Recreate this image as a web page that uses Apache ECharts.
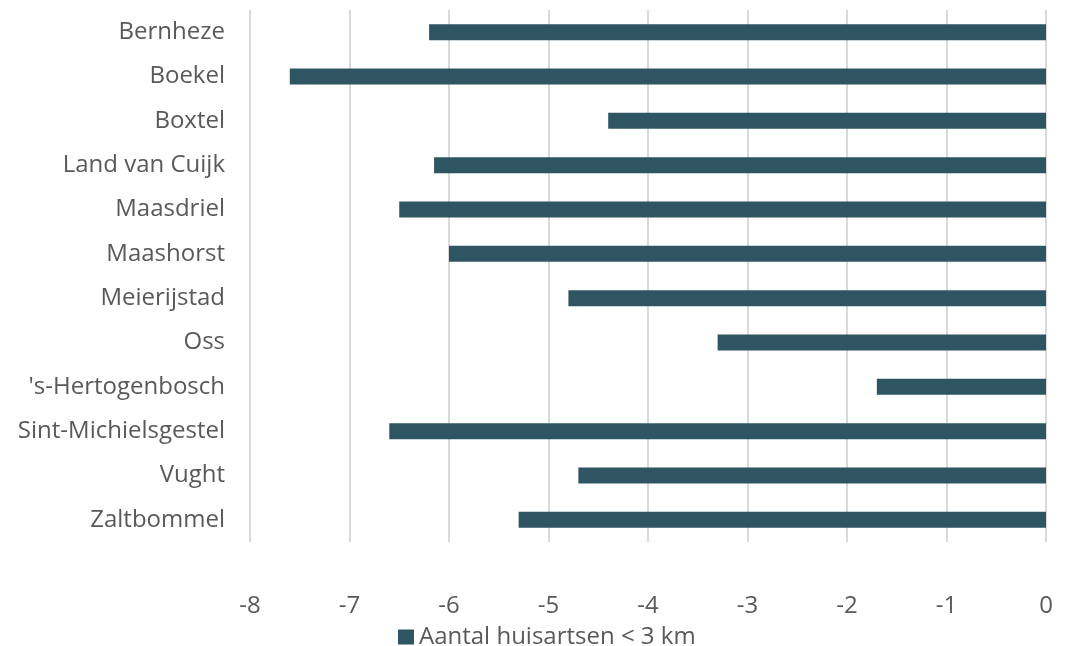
<!DOCTYPE html>
<html><head><meta charset="utf-8">
<script src="https://cdn.jsdelivr.net/npm/echarts@6/dist/echarts.min.js"></script>
<style>html,body{margin:0;padding:0;background:#fff}#c{width:1081px;height:646px}</style>
</head><body><div id="c"></div>
<script>
const categories = ["Bernheze","Boekel","Boxtel","Land van Cuijk","Maasdriel","Maashorst","Meierijstad","Oss","'s-Hertogenbosch","Sint-Michielsgestel","Vught","Zaltbommel"];
const values = [-6.2,-7.6,-4.4,-6.15,-6.5,-6.0,-4.8,-3.3,-1.7,-6.6,-4.7,-5.3];
const seriesName = "Aantal huisartsen < 3 km";
const chart = echarts.init(document.getElementById('c'));
const font = "'Open Sans', sans-serif";
chart.setOption({
  animation:false,
  textStyle:{fontFamily:font},
  grid:{left:250,right:35,top:10,bottom:104,containLabel:false},
  xAxis:{type:'value',min:-8,max:0,interval:1,
    axisLine:{show:false},axisTick:{show:false},
    splitLine:{show:true,lineStyle:{color:'#d9d9d9',width:2}},
    axisLabel:{color:'#595959',fontSize:24,fontFamily:font,margin:52}},
  yAxis:{type:'category',data:categories,inverse:true,
    axisLine:{show:false},axisTick:{show:false},
    axisLabel:{color:'#595959',fontSize:24,fontFamily:font,margin:25}},
  legend:{show:true,top:620,left:393,itemWidth:16,itemHeight:15,itemGap:10,
    icon:'rect',textStyle:{color:'#595959',fontSize:24,fontFamily:font},data:[seriesName]},
  series:[{name:seriesName,type:'bar',data:values,barWidth:16,
    itemStyle:{color:'#2f5563'}}]
});
</script></body></html>
